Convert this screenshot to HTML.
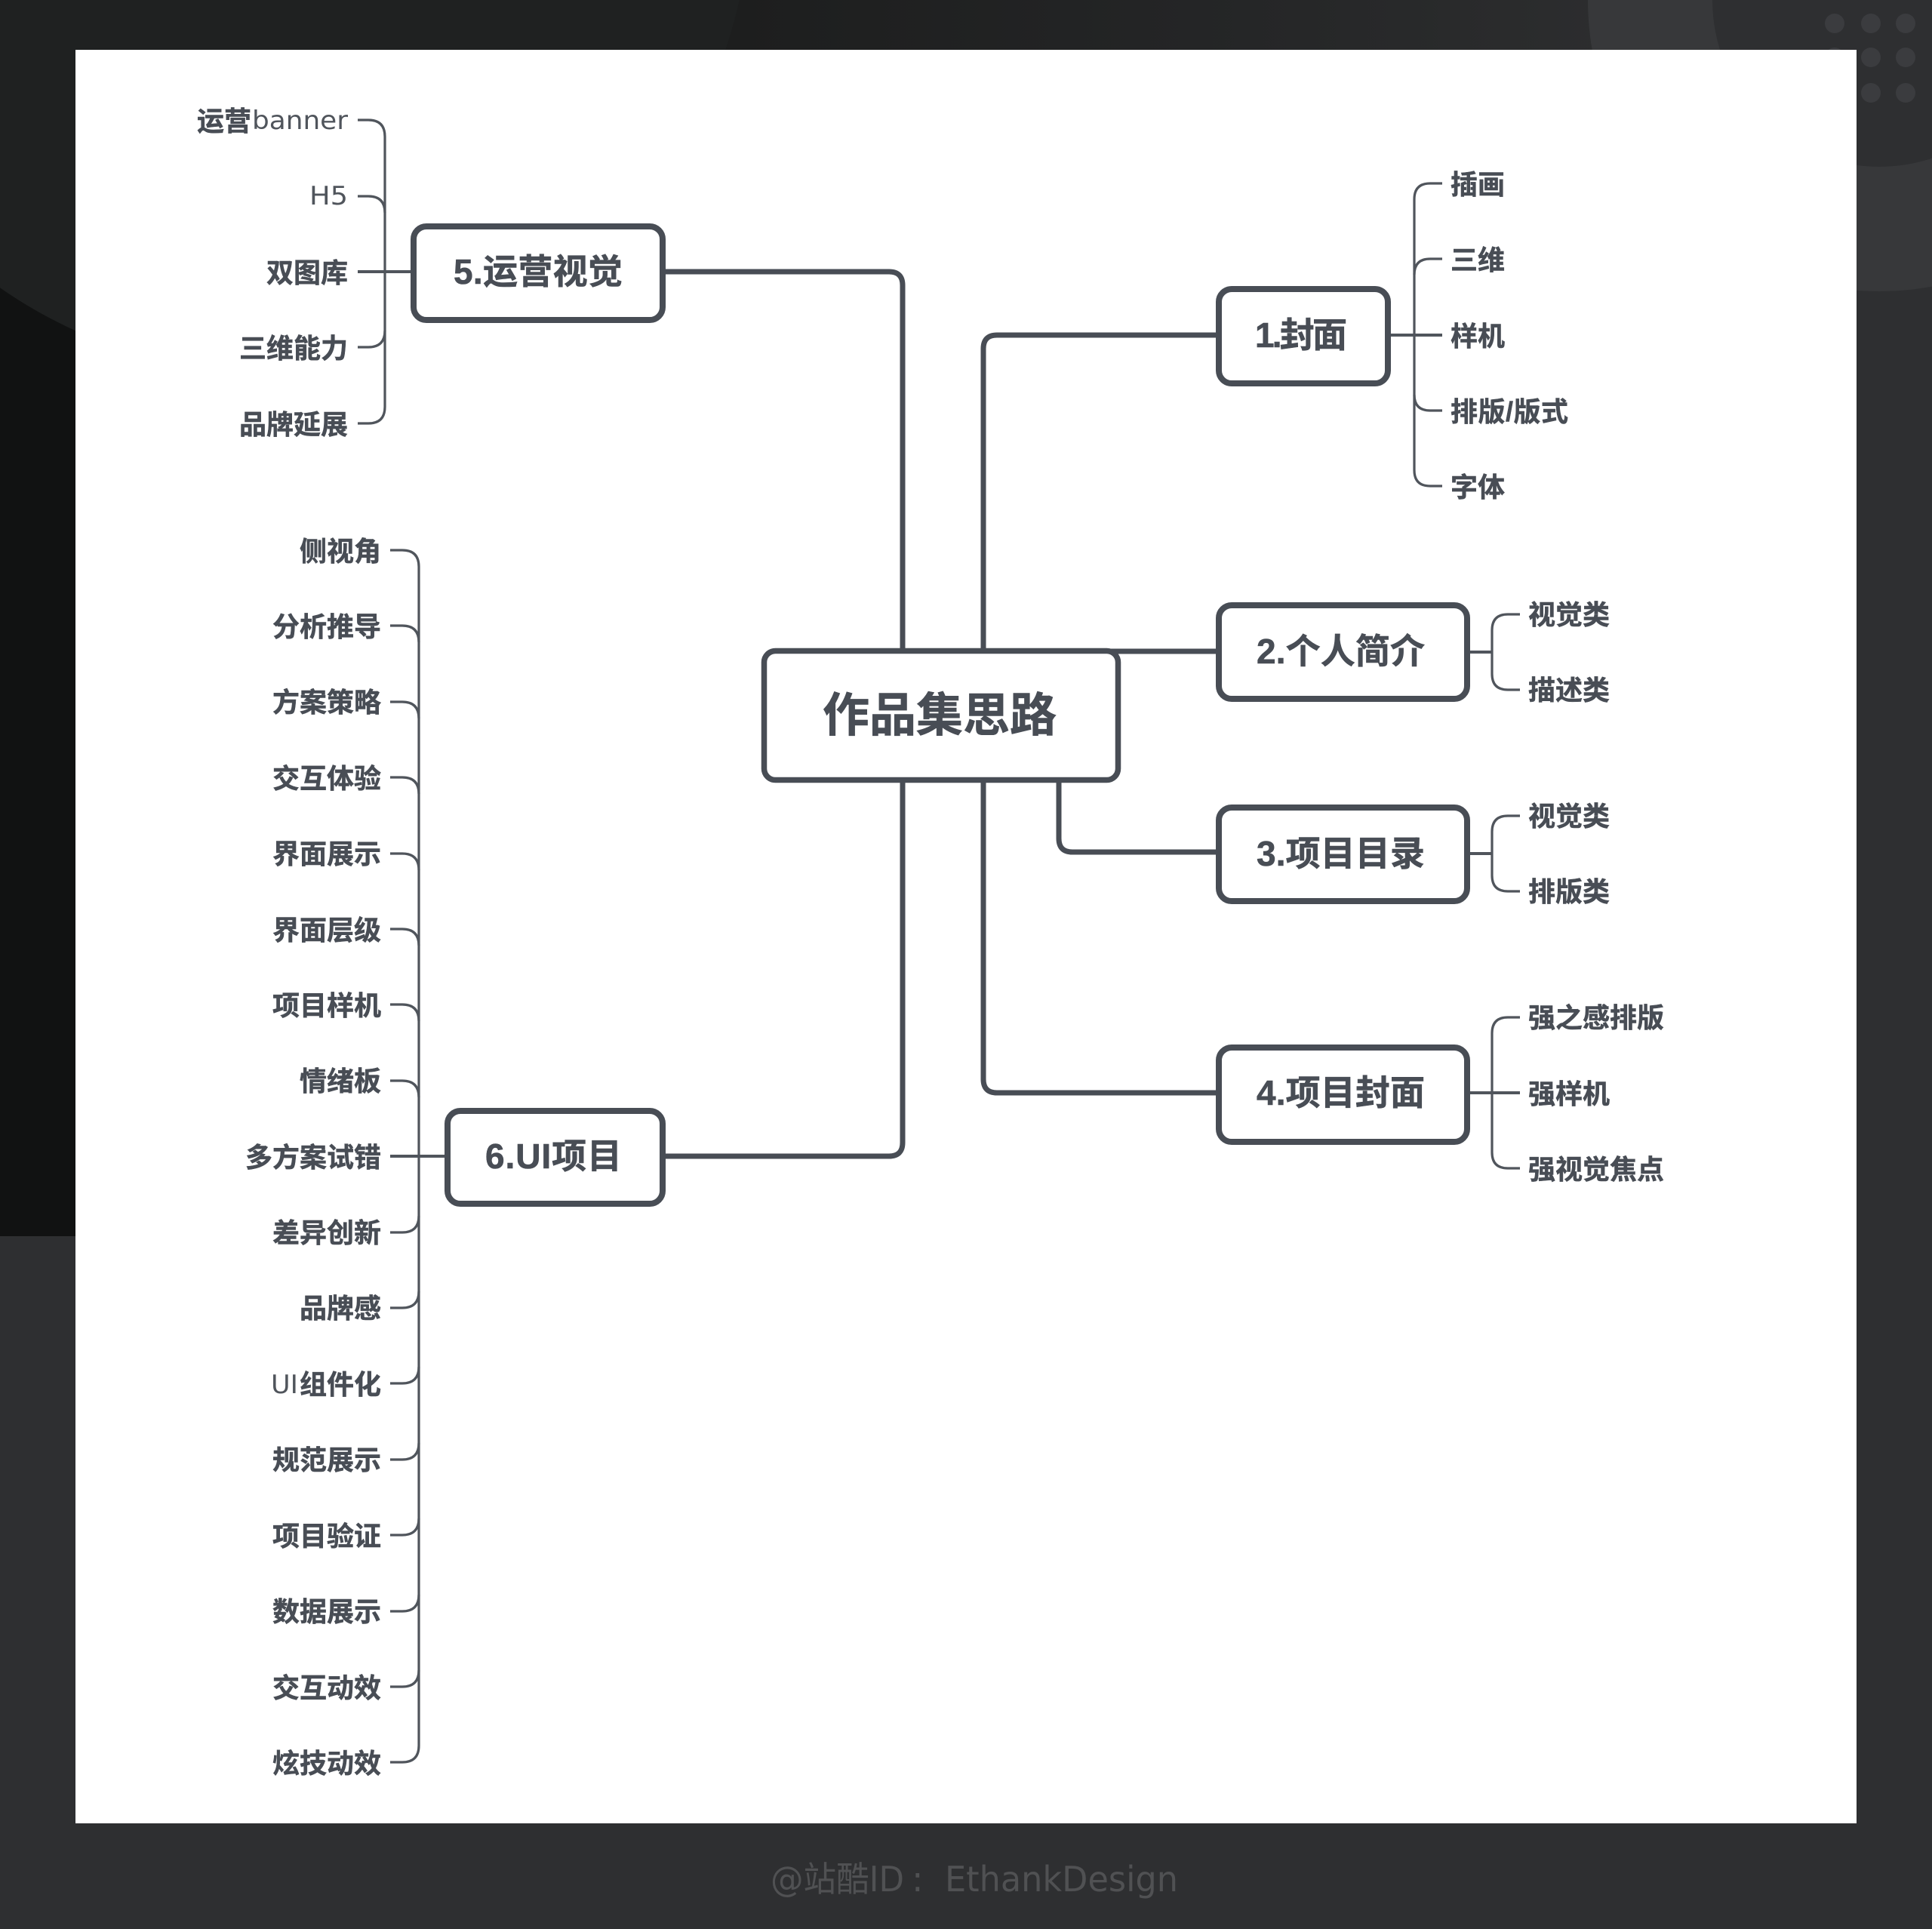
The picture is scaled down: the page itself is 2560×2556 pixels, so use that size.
<!DOCTYPE html>
<html><head><meta charset="utf-8"><style>
html,body{margin:0;padding:0;background:#2e2f31;width:2560px;height:2556px;overflow:hidden}
svg{display:block}
.l{font-family:"Liberation Sans","Noto Sans CJK SC",sans-serif;font-weight:700;font-size:36px;fill:#484d55;stroke:#484d55;stroke-width:.5}
.b{font-family:"Liberation Sans","Noto Sans CJK SC",sans-serif;font-weight:700;font-size:46px;fill:#484d55;stroke:#484d55;stroke-width:.6}
.t{font-family:"DejaVu Sans",sans-serif;font-weight:400;font-size:34px;fill:#50555c}
.f{font-family:"DejaVu Sans","Noto Sans CJK SC",sans-serif;font-size:46px;fill:#505153}
.e{text-anchor:end}
</style></head><body>
<svg width="2560" height="2556" viewBox="0 0 2560 2556" xmlns="http://www.w3.org/2000/svg">
<defs>
<linearGradient id="g" x1="0" y1="0" x2="1" y2="0">
<stop offset="0" stop-color="#1c1e1e"/><stop offset=".38" stop-color="#1d1e1e"/><stop offset=".62" stop-color="#242526"/><stop offset=".78" stop-color="#2a2b2c"/><stop offset=".88" stop-color="#2e2f31"/><stop offset="1" stop-color="#2e2f31"/>
</linearGradient>
</defs>
<rect width="2560" height="2556" fill="#2e2f31"/>
<rect width="2560" height="1638" fill="url(#g)"/>
<rect x="0" y="300" width="100" height="1338" fill="#111212"/>
<circle cx="362" cy="-138" r="633" fill="#1f2121"/>
<rect x="2200" y="0" width="360" height="1638" fill="#2e2f31"/>
<circle cx="2490" cy="0" r="386" fill="#37383a"/>
<circle cx="2490" cy="0" r="221" fill="#2e2f31"/>
<g fill="#3b3c3f">
<circle cx="2431" cy="31" r="13"/><circle cx="2479" cy="31" r="13"/><circle cx="2525" cy="31" r="13"/>
<circle cx="2431" cy="76" r="13"/><circle cx="2479" cy="76" r="13"/><circle cx="2525" cy="76" r="13"/>
<circle cx="2431" cy="123" r="13"/><circle cx="2479" cy="123" r="13"/><circle cx="2525" cy="123" r="13"/>
</g>
<rect x="100" y="66" width="2360" height="2350" fill="#fff"/>

<!-- main connectors -->
<g fill="none" stroke="#484d55" stroke-width="7">
<path d="M882 360H1178Q1196 360 1196 378V862"/>
<path d="M882 1532H1178Q1196 1532 1196 1514V1034"/>
<path d="M1303 862V462Q1303 444 1321 444H1613"/>
<path d="M1303 1034V1430Q1303 1448 1321 1448H1613"/>
<path d="M1420 863H1613"/>
<path d="M1403 1034V1111Q1403 1129 1421 1129H1613"/>
</g>

<!-- secondary connectors -->
<g fill="none" stroke="#50555c" stroke-width="3.2">
<path d="M474 159H488Q510 159 510 181V539Q510 561 488 561H474"/>
<path d="M474 260H488Q510 260 510 282"/>
<path d="M474 460H488Q510 460 510 438"/>
<path d="M474 360H545" stroke-width="4"/>

<path d="M517 729H533Q555 729 555 751V2313Q555 2335 533 2335H517"/>
<path d="M517 829H533Q555 829 555 851"/>
<path d="M517 930H533Q555 930 555 952"/>
<path d="M517 1030H533Q555 1030 555 1052"/>
<path d="M517 1131H533Q555 1131 555 1153"/>
<path d="M517 1231H533Q555 1231 555 1253"/>
<path d="M517 1331H533Q555 1331 555 1353"/>
<path d="M517 1432H533Q555 1432 555 1454"/>
<path d="M517 1532H593" stroke-width="4"/>
<path d="M517 1633H533Q555 1633 555 1611"/>
<path d="M517 1733H533Q555 1733 555 1711"/>
<path d="M517 1833H533Q555 1833 555 1811"/>
<path d="M517 1934H533Q555 1934 555 1912"/>
<path d="M517 2034H533Q555 2034 555 2012"/>
<path d="M517 2135H533Q555 2135 555 2113"/>
<path d="M517 2235H533Q555 2235 555 2213"/>

<path d="M1911 243H1895Q1874 243 1874 264V623Q1874 644 1895 644H1911"/>
<path d="M1911 343H1895Q1874 343 1874 364"/>
<path d="M1911 544H1895Q1874 544 1874 523"/>
<path d="M1843 444H1911" stroke-width="4"/>

<path d="M2014 814H1998Q1977 814 1977 835V893Q1977 914 1998 914H2014"/>
<path d="M1948 864H1977" stroke-width="4"/>
<path d="M2014 1081H1998Q1977 1081 1977 1102V1160Q1977 1181 1998 1181H2014"/>
<path d="M1948 1131H1977" stroke-width="4"/>
<path d="M2014 1348H1998Q1977 1348 1977 1369V1527Q1977 1548 1998 1548H2014"/>
<path d="M1948 1448H2014" stroke-width="4"/>
</g>

<!-- boxes -->
<g fill="#fff" stroke="#484d55" stroke-width="8">
<rect x="1012.5" y="862.5" width="469" height="171" rx="15" stroke-width="7.5"/>
<rect x="1615" y="383" width="224" height="125" rx="17"/>
<rect x="1615" y="802" width="329" height="124" rx="17"/>
<rect x="1615" y="1070" width="329" height="124" rx="17"/>
<rect x="1615" y="1388" width="329" height="125" rx="17"/>
<rect x="548" y="300" width="330" height="124" rx="17"/>
<rect x="593" y="1472" width="285" height="123" rx="17"/>
</g>

<!-- box labels -->
<text x="1090" y="969" class="b" style="font-size:62px" textLength="310" lengthAdjust="spacing">作品集思路</text>
<text x="1663" y="460" class="b" textLength="122" lengthAdjust="spacing">1.封面</text>
<text x="1665" y="879" class="b" textLength="223" lengthAdjust="spacing">2.个人简介</text>
<text x="1665" y="1147" class="b" textLength="223" lengthAdjust="spacing">3.项目目录</text>
<text x="1665" y="1464" class="b" textLength="223" lengthAdjust="spacing">4.项目封面</text>
<text x="601" y="376" class="b" textLength="224" lengthAdjust="spacing">5.运营视觉</text>
<text x="643" y="1548" class="b" textLength="181" lengthAdjust="spacing">6.UI项目</text>

<!-- group 5 -->
<text x="261" y="173" class="l">运营</text>
<text x="334" y="171" class="t" textLength="127" lengthAdjust="spacingAndGlyphs">banner</text>
<text x="410" y="271" class="t" textLength="51" lengthAdjust="spacingAndGlyphs">H5</text>
<text x="461" y="374" class="l e">双图库</text>
<text x="461" y="474" class="l e">三维能力</text>
<text x="461" y="575" class="l e">品牌延展</text>

<!-- group 6 -->
<text x="505" y="743" class="l e">侧视角</text>
<text x="505" y="843" class="l e">分析推导</text>
<text x="505" y="943" class="l e">方案策略</text>
<text x="505" y="1044" class="l e">交互体验</text>
<text x="505" y="1144" class="l e">界面展示</text>
<text x="505" y="1245" class="l e">界面层级</text>
<text x="505" y="1345" class="l e">项目样机</text>
<text x="505" y="1445" class="l e">情绪板</text>
<text x="505" y="1546" class="l e">多方案试错</text>
<text x="505" y="1646" class="l e">差异创新</text>
<text x="505" y="1746" class="l e">品牌感</text>
<text x="359" y="1846" class="t" textLength="36" lengthAdjust="spacingAndGlyphs">UI</text>
<text x="505" y="1847" class="l e">组件化</text>
<text x="505" y="1947" class="l e">规范展示</text>
<text x="505" y="2048" class="l e">项目验证</text>
<text x="505" y="2148" class="l e">数据展示</text>
<text x="505" y="2249" class="l e">交互动效</text>
<text x="505" y="2349" class="l e">炫技动效</text>

<!-- group 1 -->
<text x="1922" y="257" class="l">插画</text>
<text x="1922" y="357" class="l">三维</text>
<text x="1922" y="458" class="l">样机</text>
<text x="1922" y="558" class="l" textLength="156" lengthAdjust="spacing">排版/版式</text>
<text x="1922" y="658" class="l">字体</text>

<!-- groups 2-4 -->
<text x="2025" y="827" class="l">视觉类</text>
<text x="2025" y="927" class="l">描述类</text>
<text x="2025" y="1094" class="l">视觉类</text>
<text x="2025" y="1194" class="l">排版类</text>
<text x="2025" y="1361" class="l">强之感排版</text>
<text x="2025" y="1462" class="l">强样机</text>
<text x="2025" y="1562" class="l">强视觉焦点</text>

<!-- footer -->
<text x="1021" y="2506" class="f" textLength="177" lengthAdjust="spacingAndGlyphs">@站酷ID</text>
<text x="1208" y="2506" class="f">:</text>
<text x="1252" y="2506" class="f" textLength="309" lengthAdjust="spacingAndGlyphs">EthankDesign</text>
</svg>
</body></html>
